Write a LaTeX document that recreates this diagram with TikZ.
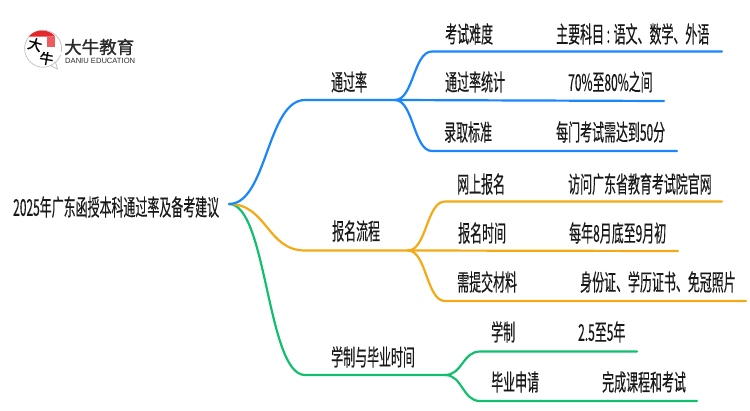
\documentclass[tikz,border=0pt]{standalone}
\usepackage{fontspec}
\usepackage{tikz}
\usetikzlibrary{calc}
\newfontfamily\mapfont[FakeStretch=0.52, FakeBold=0.3]{Noto Sans CJK SC}
\newfontfamily\logofont[FakeBold=1.5]{Noto Sans CJK SC}
\newfontfamily\logolatin{Liberation Sans}
\definecolor{branchblue}{HTML}{1A86FB}
\definecolor{branchorange}{HTML}{F5A914}
\definecolor{branchgreen}{HTML}{12BF6E}
\definecolor{logored}{HTML}{E5262A}
\definecolor{logoink}{HTML}{2B2B2B}
\tikzset{
    maplabel/.style={anchor=west, inner sep=0pt, text height=19pt, text depth=1.5pt, text=black!90, font=\mapfont\fontsize{23}{23}\selectfont},
    branchline/.style={line width=2.2pt, line cap=round}
}
\newcommand{\mapcurve}[4]{%
    \path (#2) -- (#3) coordinate[pos=0.5] (Pmid);
    \draw[branchline, #1] (#2) .. controls (Pmid |- #2) and (Pmid |- #3) .. (#3) -- (#4);
}
\begin{document}
\begin{tikzpicture}[x=1pt, y=-1pt]
            \useasboundingbox (0, 0) rectangle (750, 410);

            \coordinate (Root) at (229, 204);

            \coordinate (RateBend) at (305, 100);
            \coordinate (RateFork) at (395, 100);
            \coordinate (Rate1Bend) at (432, 51.5);
            \coordinate (Rate1End) at (722, 51.5);
            \coordinate (Rate2End) at (664, 101);
            \coordinate (Rate3Bend) at (432, 151);
            \coordinate (Rate3End) at (677, 151);

            \coordinate (ApplyBend) at (305, 250.5);
            \coordinate (ApplyFork) at (408, 250.5);
            \coordinate (Apply1Bend) at (445, 201.5);
            \coordinate (Apply1End) at (722, 201.5);
            \coordinate (Apply2End) at (678, 251);
            \coordinate (Apply3Bend) at (445, 301);
            \coordinate (Apply3End) at (746, 301);

            \coordinate (TermBend) at (305, 375);
            \coordinate (TermFork) at (445, 375);
            \coordinate (Term1Bend) at (480, 351.5);
            \coordinate (Term1End) at (637, 351.5);
            \coordinate (Term2Bend) at (480, 401);
            \coordinate (Term2End) at (697, 401);

            \mapcurve{branchgreen}{Root}{TermBend}{TermFork}
            \mapcurve{branchorange}{Root}{ApplyBend}{ApplyFork}
            \mapcurve{branchblue}{Root}{RateBend}{RateFork}

            \mapcurve{branchblue}{RateFork}{Rate1Bend}{Rate1End}
            \draw[branchline, branchblue] (RateFork) -- (Rate2End);
            \mapcurve{branchblue}{RateFork}{Rate3Bend}{Rate3End}

            \mapcurve{branchorange}{ApplyFork}{Apply1Bend}{Apply1End}
            \draw[branchline, branchorange] (ApplyFork) -- (Apply2End);
            \mapcurve{branchorange}{ApplyFork}{Apply3Bend}{Apply3End}

            \mapcurve{branchgreen}{TermFork}{Term1Bend}{Term1End}
            \mapcurve{branchgreen}{TermFork}{Term2Bend}{Term2End}

            \node[maplabel] (RootLabel) at (13, 207) {2025年广东函授本科通过率及备考建议};

            \node[maplabel] (RateLabel) at (331, 82) {通过率};
            \node[maplabel] (Rate1Label) at (445, 34) {考试难度};
            \node[maplabel] (Rate1Text) at (556, 34) {主要科目 : 语文、数学、外语};
            \node[maplabel] (Rate2Label) at (445, 82) {通过率统计};
            \node[maplabel] (Rate2Text) at (568, 82) {70\%至80\%之间};
            \node[maplabel] (Rate3Label) at (444, 132) {录取标准};
            \node[maplabel] (Rate3Text) at (556, 132) {每门考试需达到50分};

            \node[maplabel] (ApplyLabel) at (332, 231) {报名流程};
            \node[maplabel] (Apply1Label) at (457, 184) {网上报名};
            \node[maplabel] (Apply1Text) at (568, 184) {访问广东省教育考试院官网};
            \node[maplabel] (Apply2Label) at (458, 233) {报名时间};
            \node[maplabel] (Apply2Text) at (569, 233) {每年8月底至9月初};
            \node[maplabel] (Apply3Label) at (457, 282) {需提交材料};
            \node[maplabel] (Apply3Text) at (580, 282) {身份证、学历证书、免冠照片};

            \node[maplabel] (TermLabel) at (331, 357) {学制与毕业时间};
            \node[maplabel] (Term1Label) at (491, 332) {学制};
            \node[maplabel] (Term1Text) at (578, 332) {2.5至5年};
            \node[maplabel] (Term2Label) at (491, 382) {毕业申请};
            \node[maplabel] (Term2Text) at (602, 382) {完成课程和考试};

            % logo
            \draw[black!25, line width=0.7pt, fill=white] (60.5, 55) arc[start angle=20, end angle=370, radius=18.5];
            \draw[black!25, line width=0.7pt, fill=white] (51, 66) -- (57.5, 69) -- (55.5, 62) -- cycle;
            \fill[logored] (29, 36.5) .. controls (35, 28.5) and (49, 28.5) .. (55, 36.5) -- cycle;
            \fill[logored!75!white] (46.5, 37) rectangle (54.5, 47);
            \node[inner sep=0pt, rotate=-15, text=black, font=\logofont\fontsize{14}{14}\selectfont] (LogoDa) at (35, 44.5) {大};
            \node[inner sep=0pt, rotate=-10, text=black, font=\logofont\fontsize{14}{14}\selectfont] (LogoNiu) at (46.5, 58.5) {牛};
            \node[anchor=west, inner sep=0pt, text=logoink, font=\logofont\fontsize{17.5}{18}\selectfont] (LogoName) at (64, 47) {大牛教育};
            \node[anchor=west, inner sep=0pt, text=logoink, font=\logolatin\fontsize{7.6}{8}\selectfont] (LogoEnglish) at (65, 60.5) {DANIU EDUCATION};

        \end{tikzpicture}
\end{document}
